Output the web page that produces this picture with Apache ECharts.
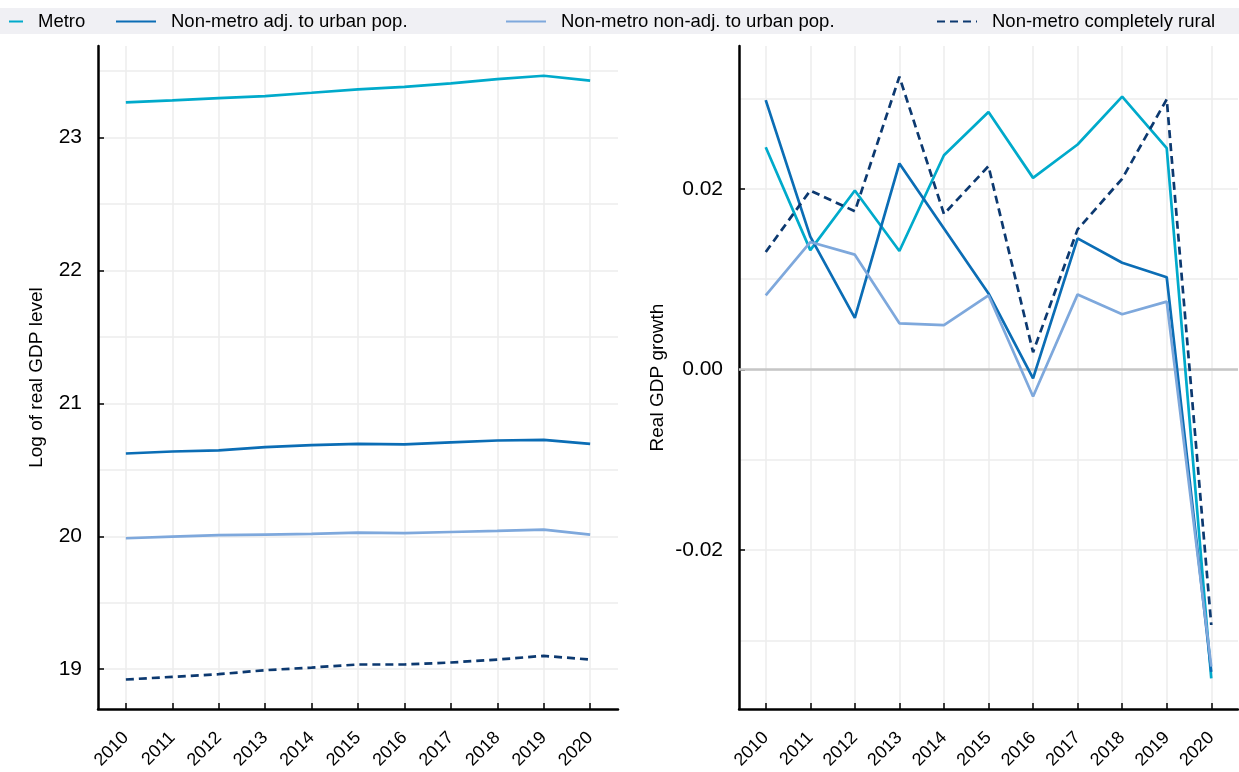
<!DOCTYPE html>
<html>
<head>
<meta charset="utf-8">
<script src="https://cdn.jsdelivr.net/npm/echarts@6/dist/echarts.min.js"></script>
<style>
html,body{margin:0;padding:0;background:#fff;}
#chart{width:1239px;height:772px;}
</style>
</head>
<body>
<div id="chart"></div>
<script>
// ---- data ----
const years = [2010, 2011, 2012, 2013, 2014, 2015, 2016, 2017, 2018, 2019, 2020];
const seriesNames = ['Metro', 'Non-metro adj. to urban pop.', 'Non-metro non-adj. to urban pop.', 'Non-metro completely rural'];

const metroLevel   = [23.266, 23.281, 23.298, 23.313, 23.338, 23.364, 23.383, 23.409, 23.441, 23.466, 23.429];
const adjLevel     = [20.623, 20.638, 20.646, 20.671, 20.686, 20.696, 20.691, 20.706, 20.721, 20.726, 20.696];
const nonAdjLevel  = [19.985, 19.998, 20.008, 20.013, 20.018, 20.028, 20.023, 20.032, 20.040, 20.050, 20.013];
const ruralLevel   = [18.922, 18.942, 18.962, 18.992, 19.012, 19.035, 19.035, 19.050, 19.072, 19.100, 19.072];

const metroGrowth  = [0.0246, 0.0132, 0.0198, 0.0131, 0.0237, 0.0285, 0.0212, 0.0249, 0.0302, 0.0245, -0.0342];
const adjGrowth    = [0.0298, 0.0147, 0.0057, 0.0228, 0.0156, 0.0084, -0.0010, 0.0145, 0.0118, 0.0102, -0.0335];
const nonAdjGrowth = [0.0082, 0.0141, 0.0127, 0.0051, 0.0049, 0.0082, -0.0030, 0.0083, 0.0061, 0.0075, -0.0329];
const ruralGrowth  = [0.0130, 0.0198, 0.0175, 0.0324, 0.0172, 0.0225, 0.0019, 0.0155, 0.0211, 0.0299, -0.0283];

const levelTicks = [19, 20, 21, 22, 23];
const levelGrid  = [19, 19.5, 20, 20.5, 21, 21.5, 22, 22.5, 23, 23.5];
const growthTicks = [-0.02, 0, 0.02];
const growthGrid  = [-0.03, -0.02, -0.01, 0, 0.01, 0.02, 0.03];

// ---- style ----
const colors = ['#00aacb', '#0b6db5', '#7ea8dc', '#0c3970'];
const FONT = "'Liberation Sans', Arial, sans-serif";
const gridColor = '#ececec';

function pairs(vals) { return years.map((y, i) => [y, vals[i]]); }

function makeSeries(name, vals, idx, axisIdx, dashed) {
  return {
    name: name, type: 'line', xAxisIndex: axisIdx, yAxisIndex: axisIdx * 2,
    data: pairs(vals), symbol: 'none', showSymbol: false,
    lineStyle: { color: colors[idx], width: 2.7, type: dashed ? [8, 5] : 'solid' },
    itemStyle: { color: colors[idx] },
    z: 3 + idx
  };
}

function xAxisDef(gi) {
  return {
    type: 'value', gridIndex: gi, min: 2009.4, max: 2020.6,
    axisLine: { onZero: false, lineStyle: { color: '#000', width: 2.5 } },
    axisTick: { inside: true, length: 6, lineStyle: { color: '#000', width: 1.5 }, customValues: years },
    axisLabel: { customValues: years, rotate: 45, fontSize: 18, fontFamily: FONT, color: '#000', margin: 26,
                 formatter: v => String(Math.round(v)) },
    splitLine: { show: true, lineStyle: { color: gridColor, width: 1.5 } }
  };
}

function yMain(gi, min, max, ticks, fmt, name, gap) {
  return {
    type: 'value', gridIndex: gi, min: min, max: max, position: 'left',
    name: name, nameLocation: 'middle', nameGap: gap, nameRotate: 90,
    nameTextStyle: { fontSize: 19, fontFamily: FONT, color: '#000' },
    axisLine: { show: true, lineStyle: { color: '#000', width: 2.5 } },
    axisTick: { show: true, inside: true, length: 6, lineStyle: { color: '#000', width: 1.5 }, customValues: ticks },
    axisLabel: { customValues: ticks, fontSize: 21, fontFamily: FONT, color: '#000', margin: 16, formatter: fmt },
    splitLine: { show: false }
  };
}
function yGrid(gi, min, max, lines) {
  return {
    type: 'value', gridIndex: gi, min: min, max: max, position: 'left',
    axisLine: { show: false },
    axisTick: { show: false, customValues: lines },
    axisLabel: { show: false, customValues: lines },
    splitLine: { show: true, lineStyle: { color: gridColor, width: 1.5 } }
  };
}

function legendDef(name, left, iconWidth) {
  return {
    data: [name], left: left, top: 12, padding: 0, itemWidth: iconWidth, itemHeight: 18,
    itemStyle: { opacity: 0 },
    textStyle: { fontSize: 18.5, fontFamily: FONT, color: '#000', padding: [0, 0, 0, 10] },
    selectedMode: false
  };
}

const series = [
  makeSeries(seriesNames[0], metroLevel, 0, 0, false),
  makeSeries(seriesNames[1], adjLevel, 1, 0, false),
  makeSeries(seriesNames[2], nonAdjLevel, 2, 0, false),
  makeSeries(seriesNames[3], ruralLevel, 3, 0, true),
  makeSeries(seriesNames[0], metroGrowth, 0, 1, false),
  makeSeries(seriesNames[1], adjGrowth, 1, 1, false),
  makeSeries(seriesNames[2], nonAdjGrowth, 2, 1, false),
  makeSeries(seriesNames[3], ruralGrowth, 3, 1, true)
];
// zero reference line on the growth panel
series[4].markLine = {
  silent: true, symbol: 'none', label: { show: false },
  lineStyle: { color: '#c6c6c6', width: 2.5, type: 'solid' },
  data: [{ yAxis: 0 }], z: 1
};

const option = {
  animation: false,
  backgroundColor: '#ffffff',
  textStyle: { fontFamily: FONT },
  graphic: [{
    type: 'rect', left: 0, top: 8, z: -10, silent: true,
    shape: { width: 1239, height: 26 }, style: { fill: '#f0f0f4' }
  }],
  legend: [
    legendDef(seriesNames[0], 8, 14),
    legendDef(seriesNames[1], 115, 40),
    legendDef(seriesNames[2], 505, 40),
    legendDef(seriesNames[3], 936, 40)
  ],
  grid: [
    { left: 98, right: 621, top: 46, bottom: 63, containLabel: false },
    { left: 739, right: 1, top: 46, bottom: 63, containLabel: false }
  ],
  xAxis: [xAxisDef(0), xAxisDef(1)],
  yAxis: [
    yMain(0, 18.70, 23.69, levelTicks, v => String(Math.round(v)), 'Log of real GDP level', 52),
    yGrid(0, 18.70, 23.69, levelGrid),
    yMain(1, -0.0376, 0.0358, growthTicks, v => v.toFixed(2), 'Real GDP growth', 72),
    yGrid(1, -0.0376, 0.0358, growthGrid)
  ],
  series: series
};

const chart = echarts.init(document.getElementById('chart'), null, { renderer: 'canvas' });
chart.setOption(option);
</script>
</body>
</html>
